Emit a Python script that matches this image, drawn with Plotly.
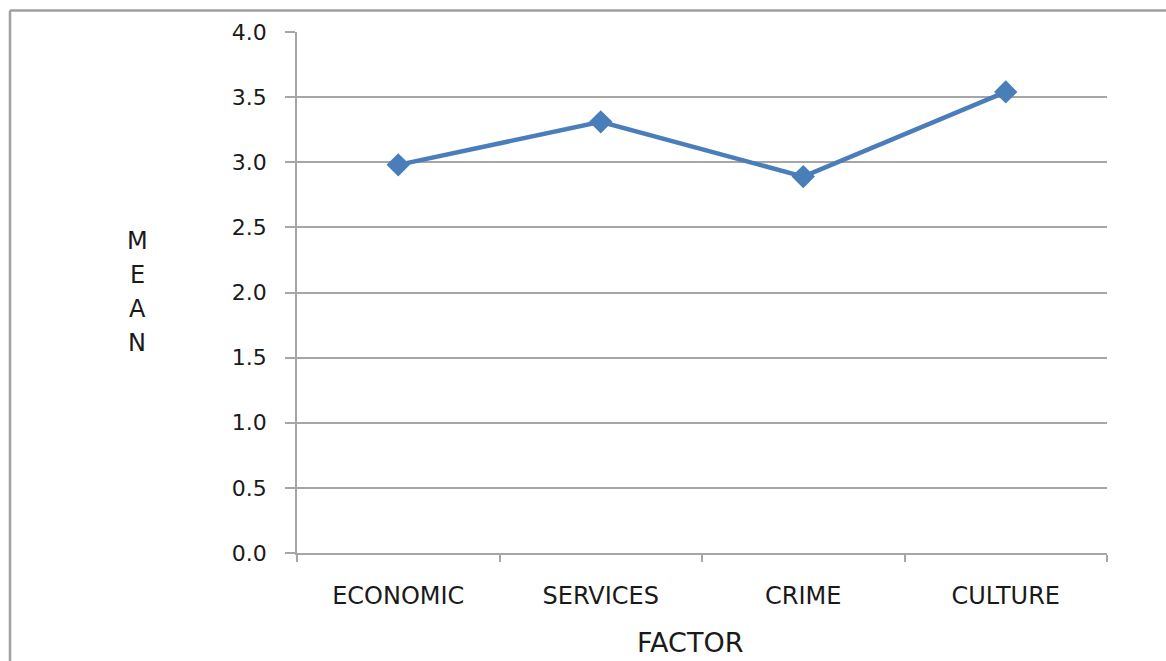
import plotly.graph_objects as go

# Mean score per factor
factors = ["ECONOMIC", "SERVICES", "CRIME", "CULTURE"]
means = [2.98, 3.31, 2.89, 3.54]
y_ticks = [0.0, 0.5, 1.0, 1.5, 2.0, 2.5, 3.0, 3.5, 4.0]
y_title = "MEAN"
x_title = "FACTOR"

LINE_BLUE = "#4a7ebb"
GRID = "#a6a6a6"
TEXT = "#1a1a1a"
FONT = "DejaVu Sans"

fig = go.Figure()
fig.add_trace(go.Scatter(
    x=factors, y=means, mode="lines+markers",
    line=dict(color=LINE_BLUE, width=4.5),
    marker=dict(symbol="diamond", size=18, color=LINE_BLUE),
    showlegend=False, hoverinfo="x+y",
))

fig.update_layout(
    width=1166, height=661,
    margin=dict(l=297, r=59, t=31.5, b=108),
    paper_bgcolor="white", plot_bgcolor="white",
    font=dict(family=FONT, color=TEXT),
    xaxis=dict(
        type="category", range=[-0.5, 3.5],
        showline=True, linecolor=GRID, linewidth=1.5,
        ticks="outside", tickson="boundaries", ticklen=7, tickcolor=GRID, tickwidth=1.5,
        showgrid=False, zeroline=False,
        tickfont=dict(family=FONT, size=24, color=TEXT),
        ticklabelstandoff=20,
    ),
    yaxis=dict(
        range=[0, 4], tickvals=y_ticks, tickformat=".1f",
        showline=True, linecolor=GRID, linewidth=1.5,
        ticks="outside", ticklen=10, tickcolor=GRID, tickwidth=1.5,
        showgrid=True, gridcolor=GRID, gridwidth=1.5, zeroline=False,
        tickfont=dict(family=FONT, size=22, color=TEXT),
        ticklabelstandoff=14,
    ),
)

# Axis titles placed as annotations (vertical stacked letters for the y title)
letter_y = [241, 275, 309, 343]
for ch, py in zip(y_title, letter_y):
    fig.add_annotation(
        text=ch, xref="paper", yref="paper",
        x=(137 - 297) / 810, y=(553 - py) / 521.5,
        xanchor="center", yanchor="middle", showarrow=False,
        font=dict(family=FONT, size=24, color=TEXT),
    )
fig.add_annotation(
    text=x_title, xref="paper", yref="paper",
    x=(690 - 297) / 810, y=(553 - 643) / 521.5,
    xanchor="center", yanchor="middle", showarrow=False,
    font=dict(family=FONT, size=27, color=TEXT),
)

# Chart-area frame (top and left edges)
x_left = (10 - 297) / 810
x_right = (1170 - 297) / 810
y_top = (553 - 10) / 521.5
y_bottom = (553 - 670) / 521.5
fig.add_shape(type="line", xref="paper", yref="paper",
              x0=x_left, x1=x_right, y0=y_top, y1=y_top,
              line=dict(color="#a0a0a0", width=2.5))
fig.add_shape(type="line", xref="paper", yref="paper",
              x0=x_left, x1=x_left, y0=y_top, y1=y_bottom,
              line=dict(color="#a0a0a0", width=2.5))

fig.write_html("out.html")
